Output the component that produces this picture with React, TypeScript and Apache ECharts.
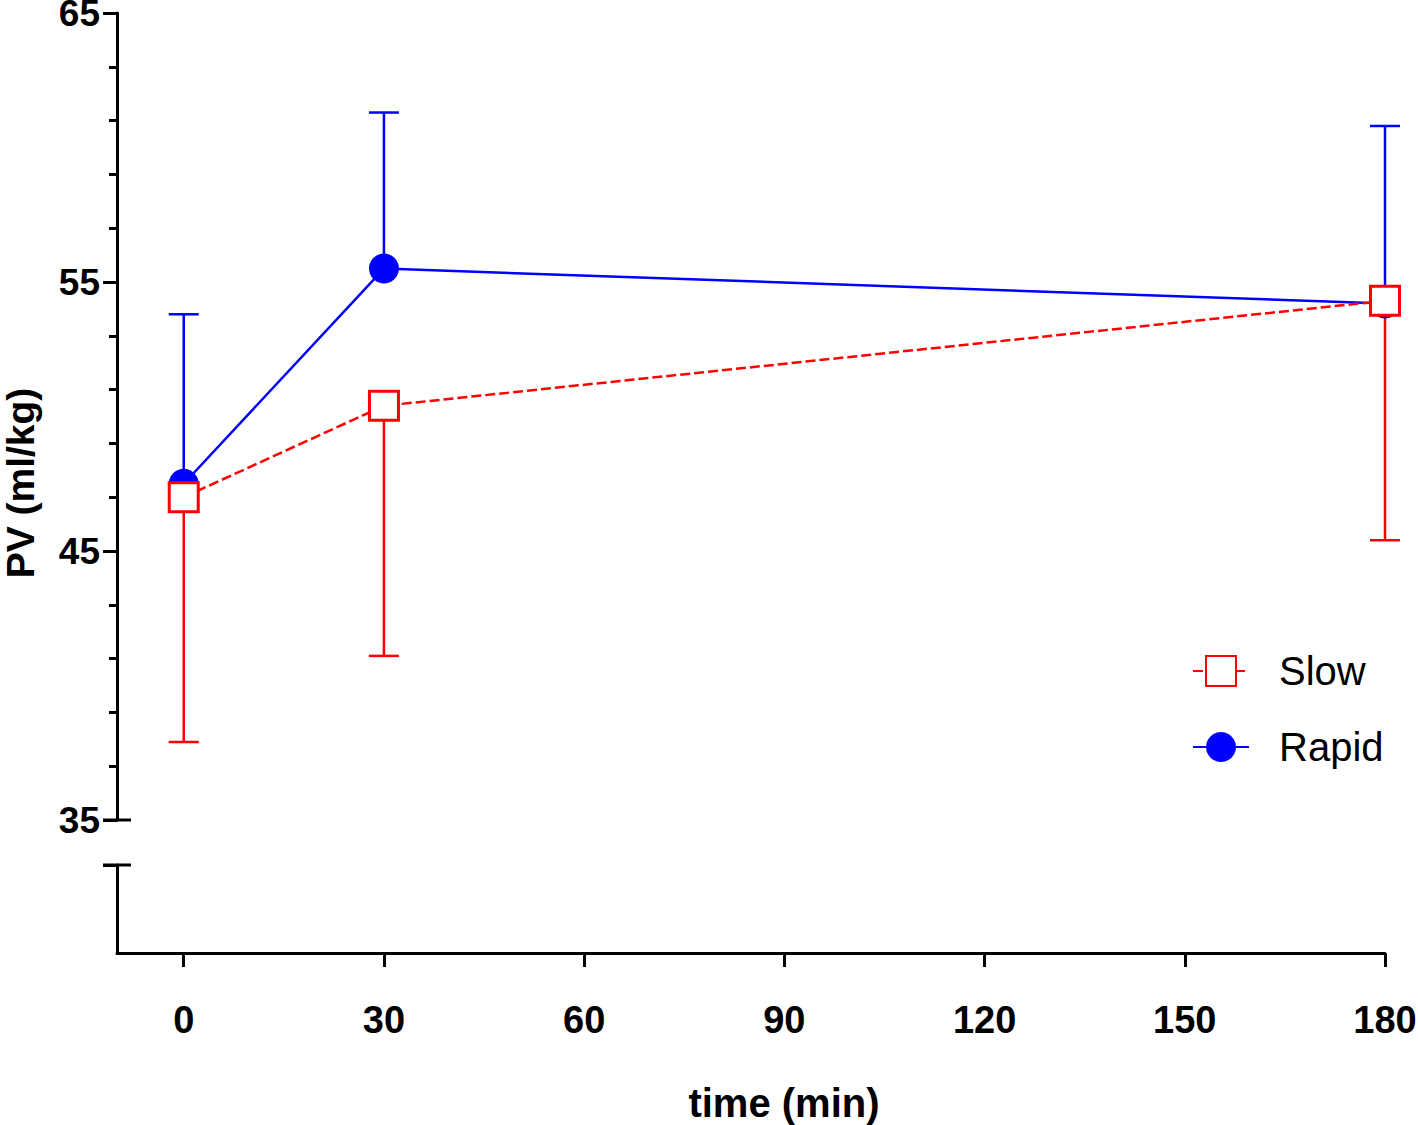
import React, { useEffect, useRef } from "react";
import * as echarts from "echarts";

const timePoints = [0, 30, 180];
const rapidMean = [47.5, 55.5, 54.2];
const rapidSD = [6.3, 5.8, 6.6];
const slowMean = [47.0, 50.4, 54.3];
const slowSD = [9.1, 9.3, 8.9];
const xTicks = [0, 30, 60, 90, 120, 150, 180];

const FONT = "'Liberation Sans', Arial, Helvetica, sans-serif";
const BLUE = "#0000ff";
const RED = "#ff0000";

function errorBarSeries(name: string, means: number[], sds: number[], dir: number, color: string) {
  return {
    type: "custom",
    name: name + "-err",
    xAxisIndex: 0,
    yAxisIndex: 0,
    z: 1,
    silent: true,
    data: timePoints.map((t, i) => [t, means[i], means[i] + dir * sds[i]]),
    renderItem: (params: any, api: any) => {
      const x = api.value(0);
      const y = api.value(1);
      const e = api.value(2);
      const p0 = api.coord([x, y]);
      const p1 = api.coord([x, e]);
      const half = 15;
      return {
        type: "group",
        children: [
          { type: "line", shape: { x1: p0[0], y1: p0[1], x2: p1[0], y2: p1[1] }, style: { stroke: color, lineWidth: 2.5 } },
          { type: "line", shape: { x1: p1[0] - half, y1: p1[1], x2: p1[0] + half, y2: p1[1] }, style: { stroke: color, lineWidth: 2.5 } },
        ],
      };
    },
  };
}

export default function App() {
  const ref = useRef<HTMLDivElement>(null);
  useEffect(() => {
    document.body.style.margin = "0";
    const chart = echarts.init(ref.current!, null, { renderer: "svg" });
    const axisLine = { show: true, onZero: false, lineStyle: { color: "#000", width: 3 } };
    const option: any = {
      animation: false,
      backgroundColor: "#fff",
      textStyle: { fontFamily: FONT },
      grid: [
        { left: 117, top: 13, width: 1268, height: 807, outerBoundsMode: "none", containLabel: false },
        { left: 117, top: 865, width: 1268, height: 88, outerBoundsMode: "none", containLabel: false },
      ],
      xAxis: [
        { type: "value", gridIndex: 0, min: -10, max: 180, show: false },
        {
          type: "value",
          gridIndex: 1,
          min: -10,
          max: 180,
          axisLine,
          splitLine: { show: false },
          axisTick: { show: true, length: 14, lineStyle: { width: 3, color: "#000" }, customValues: xTicks },
          axisLabel: {
            customValues: xTicks,
            fontSize: 38,
            fontWeight: "bold",
            fontFamily: FONT,
            color: "#000",
            margin: 48,
          },
        },
      ],
      yAxis: [
        {
          type: "value",
          gridIndex: 0,
          min: 35,
          max: 65,
          interval: 10,
          axisLine,
          splitLine: { show: false },
          axisTick: { show: true, length: 14, lineStyle: { width: 3, color: "#000" } },
          minorTick: { show: true, splitNumber: 5, length: 8, lineStyle: { width: 3, color: "#000" } },
          axisLabel: {
            fontSize: 37,
            lineHeight: 26,
            fontWeight: "bold",
            fontFamily: FONT,
            color: "#000",
            margin: 17,
          },
        },
        {
          type: "value",
          gridIndex: 1,
          min: 0,
          max: 1,
          axisLine,
          splitLine: { show: false },
          axisTick: { show: true, length: 14, lineStyle: { width: 3, color: "#000" }, customValues: [1] },
          axisLabel: { show: false },
        },
      ],
      legend: {
        orient: "vertical",
        left: 1192,
        top: 651,
        padding: 0,
        itemWidth: 56,
        itemHeight: 37.5,
        itemGap: 36,
        data: ["Slow", "Rapid"],
        textStyle: { fontSize: 40, lineHeight: 37.5, fontFamily: FONT, color: "#000", padding: [0, 0, 0, 25] },
      },
      graphic: [
        { type: "line", shape: { x1: 103, y1: 820, x2: 131, y2: 820 }, style: { stroke: "#000", lineWidth: 3 } },
        { type: "line", shape: { x1: 103, y1: 865, x2: 131, y2: 865 }, style: { stroke: "#000", lineWidth: 3 } },
        {
          type: "text",
          x: 20,
          y: 483,
          rotation: Math.PI / 2,
          style: {
            text: "PV (ml/kg)",
            font: "bold 39px " + FONT,
            fill: "#000",
            align: "center",
            verticalAlign: "middle",
          },
        },
        {
          type: "text",
          x: 784,
          y: 1103,
          style: {
            text: "time (min)",
            font: "bold 40px " + FONT,
            fill: "#000",
            align: "center",
            verticalAlign: "middle",
          },
        },
      ],
      series: [
        errorBarSeries("Rapid", rapidMean, rapidSD, 1, BLUE),
        errorBarSeries("Slow", slowMean, slowSD, -1, RED),
        {
          type: "line",
          name: "Rapid",
          xAxisIndex: 0,
          yAxisIndex: 0,
          z: 3,
          data: timePoints.map((t, i) => [t, rapidMean[i]]),
          symbol: "circle",
          symbolSize: 30,
          lineStyle: { color: BLUE, width: 2.5 },
          itemStyle: { color: BLUE, borderWidth: 0 },
        },
        {
          type: "line",
          name: "Slow",
          xAxisIndex: 0,
          yAxisIndex: 0,
          z: 4,
          data: timePoints.map((t, i) => [t, slowMean[i]]),
          symbol: "rect",
          symbolSize: 29,
          lineStyle: { color: RED, width: 2.5, type: [10, 4] },
          itemStyle: { color: "#fff", borderColor: RED, borderWidth: 3 },
        },
      ],
    };
    chart.setOption(option);
    return () => chart.dispose();
  }, []);
  return (
    <div
      ref={ref}
      style={{ position: "absolute", left: 0, top: 0, width: 1418, height: 1125, background: "#fff" }}
    />
  );
}
